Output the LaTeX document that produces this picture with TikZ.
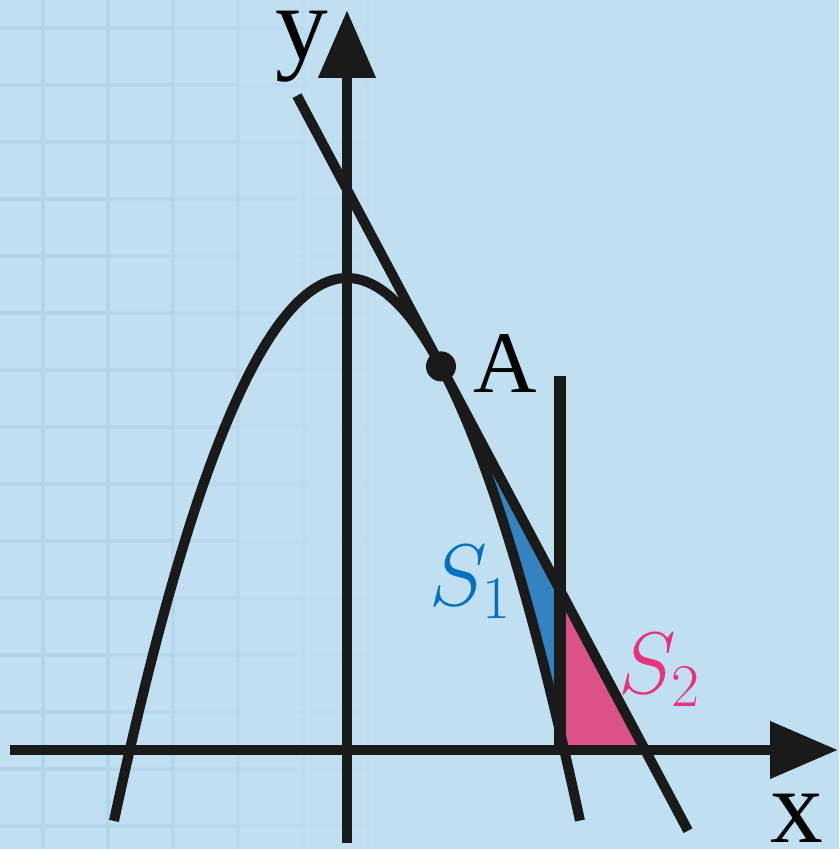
\documentclass[tikz,border=0pt]{standalone}
\usepackage{fontspec}
\setmainfont{Liberation Serif}
\usepackage{tikz}
\usetikzlibrary{arrows.meta}
\definecolor{paper}{RGB}{192,223,240}
\definecolor{gridline}{RGB}{180,212,234}
\definecolor{ink}{RGB}{26,26,26}
\definecolor{regone}{RGB}{52,130,192}
\definecolor{regtwo}{RGB}{218,82,136}
\definecolor{labone}{RGB}{0,112,192}
\definecolor{labtwo}{RGB}{232,50,124}

\begin{document}
\begin{tikzpicture}[curve/.style={ink,line width=2.85pt},
  axis/.style={ink,line width=3.1pt,-{Triangle[length=6.8mm,width=5.5mm]}},
  big/.style={font=\fontsize{30}{30}\selectfont,inner sep=0pt}]
\fill[paper] (-3.47,-0.99) rectangle (4.92,7.50);
\useasboundingbox (-3.47,-0.99) rectangle (4.92,7.50);
\foreach \i/\op in {0/1,1/1,2/0.8,3/0.55,4/0.3,5/0.1} {
  \draw[gridline,line width=1.3pt,opacity=\op] (-3.04+0.65*\i,-0.99) -- (-3.04+0.65*\i,7.50);
  \foreach \j in {0,...,14}
    \draw[gridline,line width=1.3pt,opacity=\op] (-3.69+0.65*\i,7.22-0.57*\j) -- (-3.04+0.65*\i,7.22-0.57*\j);
}
\coordinate (A) at (0.94,3.836);
\coordinate (P) at (2.13,1.599);
\coordinate (Q) at (2.981,0);
\coordinate (F) at (2.13,0);
\fill[regone] (A) -- (P) -- plot[domain=2.13:0.94,samples=40] (\x,{4.72-\x*\x}) -- cycle;
\fill[regtwo] (F) -- (P) -- (Q) -- cycle;
\draw[axis] (-3.37,0) -- (4.91,0);
\draw[axis] (0,-0.93) -- (0,7.40);
\draw[curve,domain=-2.33:2.33,samples=120] plot (\x,{4.72-\x*\x});
\draw[curve,domain=-0.5:3.41,samples=2] plot (\x,{5.6036-1.88*\x});
\draw[ink,line width=3.3pt] (F) -- (2.13,3.74);
\fill[ink] (A) circle (0.15);
\node[big,anchor=base] (ylab) at (-0.45,6.90) {y};
\node[big,anchor=base] (xlab) at (4.50,-0.93) {x};
\node[font=\fontsize{25}{25}\selectfont,anchor=base] (alab) at (1.58,3.57) {A};
\node[labone,font=\fontsize{27}{27}\selectfont] (sone) at (1.24,1.68) {$S_1$};
\node[labtwo,font=\fontsize{27}{27}\selectfont] (stwo) at (3.13,0.80) {$S_2$};
\end{tikzpicture}
\end{document}
